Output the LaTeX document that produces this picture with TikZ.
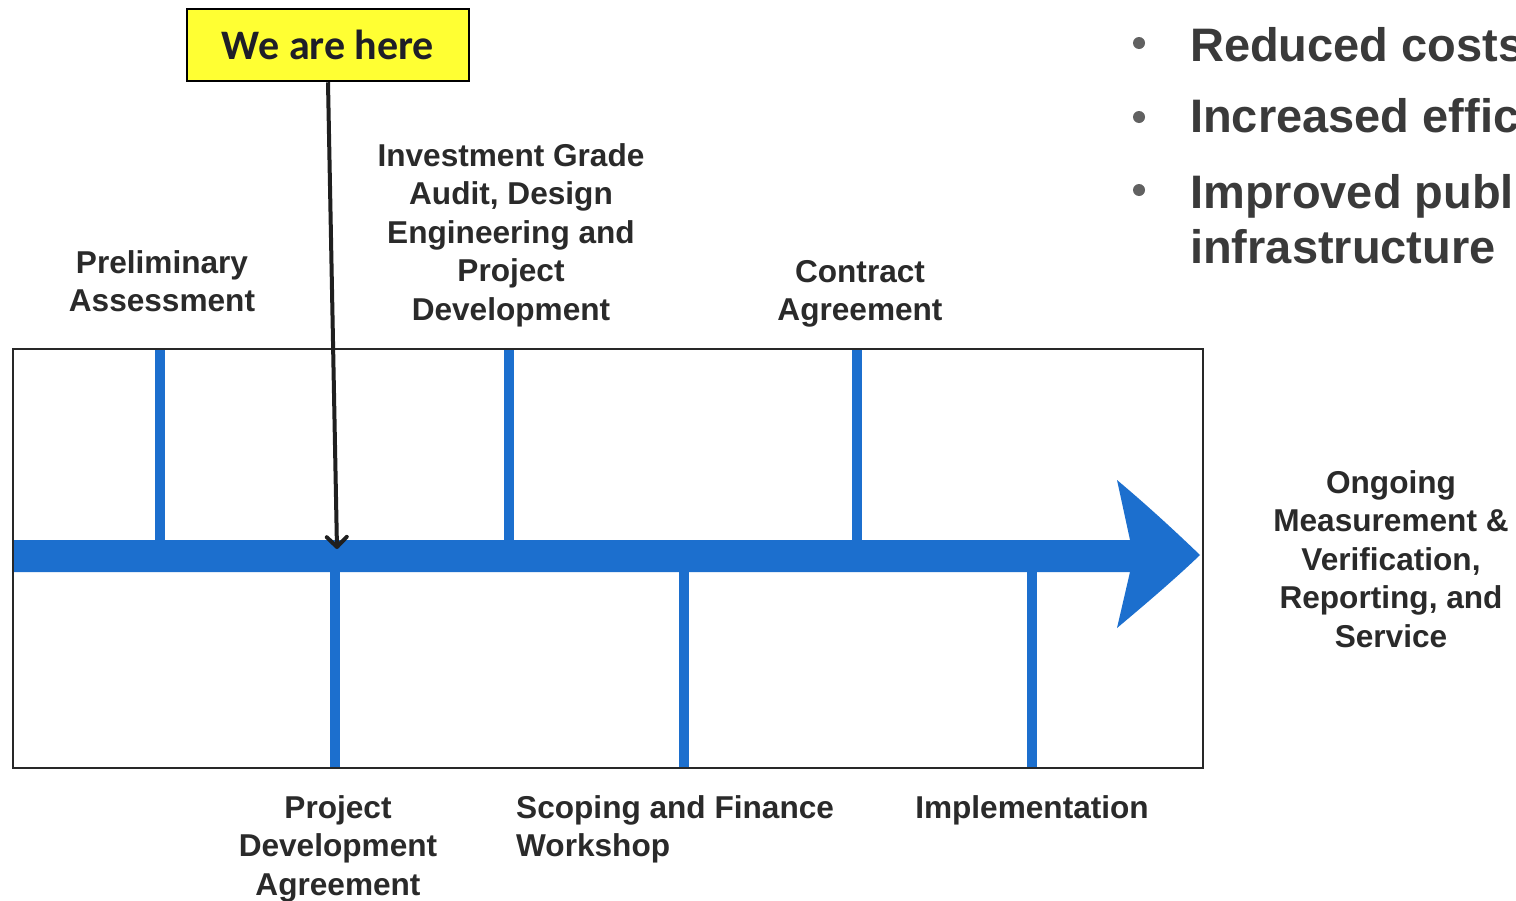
\documentclass[tikz,border=0pt]{standalone}
\usepackage{fontspec}
\setmainfont{Liberation Sans}
\newfontfamily\carlitofont{Carlito}
\usetikzlibrary{arrows.meta}
\definecolor{tlblue}{RGB}{28,111,206}
\definecolor{txtgray}{RGB}{42,42,42}
\definecolor{bulletgray}{RGB}{58,58,58}
\definecolor{hereyellow}{RGB}{255,255,51}
\definecolor{framegray}{RGB}{40,40,40}
\definecolor{heretext}{RGB}{30,30,40}

\begin{document}
\begin{tikzpicture}[x=1pt,y=-1pt,
  lbl/.style={font=\fontsize{31.6}{38.5}\selectfont\bfseries, text=txtgray, align=center, inner sep=0pt, anchor=north},
  bullettext/.style={font=\fontsize{47}{55}\selectfont\bfseries, text=bulletgray, align=left, inner sep=0pt, anchor=base west},
  bulletdot/.style={fill=bulletgray!80, draw=none, circle, minimum size=12pt, inner sep=0pt},
  tick/.style={draw=tlblue, line width=10pt},
  herebox/.style={draw=black, line width=2.5pt, fill=hereyellow, minimum width=282pt, minimum height=72pt, inner sep=0pt,
    font=\carlitofont\fontsize{42}{42}\selectfont\bfseries, text=heretext},
  pointer/.style={draw=black!88, line width=4pt, -{Straight Barb[length=10pt,width=20pt,line width=4pt,round]}}
]
\useasboundingbox (0,0) rectangle (1516,900);
\fill[white] (0,0) rectangle (1516,900);

% main timeline arrow
\fill[tlblue] (13,540) -- (1130,540) -- (1117,480)
  .. controls (1148,506) and (1176,532) .. (1200,555)
  .. controls (1176,578) and (1148,602) .. (1117,628)
  -- (1130,572) -- (13,572) -- cycle;

% milestone ticks
\coordinate (t1a) at (160,349); \coordinate (t1b) at (160,546);
\coordinate (t2a) at (509,349); \coordinate (t2b) at (509,546);
\coordinate (t3a) at (857,349); \coordinate (t3b) at (857,546);
\coordinate (b1a) at (335,566); \coordinate (b1b) at (335,768);
\coordinate (b2a) at (684,566); \coordinate (b2b) at (684,768);
\coordinate (b3a) at (1032,566); \coordinate (b3b) at (1032,768);
\foreach \s/\e in {t1a/t1b,t2a/t2b,t3a/t3b,b1a/b1b,b2a/b2b,b3a/b3b}
  \draw[tick] (\s) -- (\e);

% frame
\node[draw=framegray, line width=2pt, minimum width=1190pt, minimum height=419pt, inner sep=0pt] (frame) at (608,558.5) {};

% current position marker
\node[herebox] (here) at (328,45) {We are here};
\coordinate (herept) at (337,549);
\draw[pointer] (here.south) -- (herept);

% milestone labels
\node[lbl] (prelim) at (162,250) {Preliminary\\Assessment};
\node[lbl] (iga) at (511,143) {Investment Grade\\Audit, Design\\Engineering and\\Project\\Development};
\node[lbl] (contract) at (860,260) {Contract\\Agreement};
\node[lbl] (pda) at (338,795) {Project\\Development\\Agreement};
\node[lbl, align=left, anchor=north west] (scope) at (516,795) {Scoping and Finance\\Workshop};
\node[lbl] (impl) at (1032,795) {Implementation};
\node[lbl] (ongoing) at (1391,470) {Ongoing\\Measurement \&\\Verification,\\Reporting, and\\Service};

% benefits list
\node[bulletdot] (d1) at (1139,43) {};
\node[bulletdot] (d2) at (1139,117) {};
\node[bulletdot] (d3) at (1139,190) {};
\node[bullettext] (l1) at (1190,61) {Reduced costs};
\node[bullettext] (l2) at (1190,132) {Increased efficiency};
\node[bullettext] (l3) at (1190,263) {Improved public\\infrastructure};
\end{tikzpicture}
\end{document}
